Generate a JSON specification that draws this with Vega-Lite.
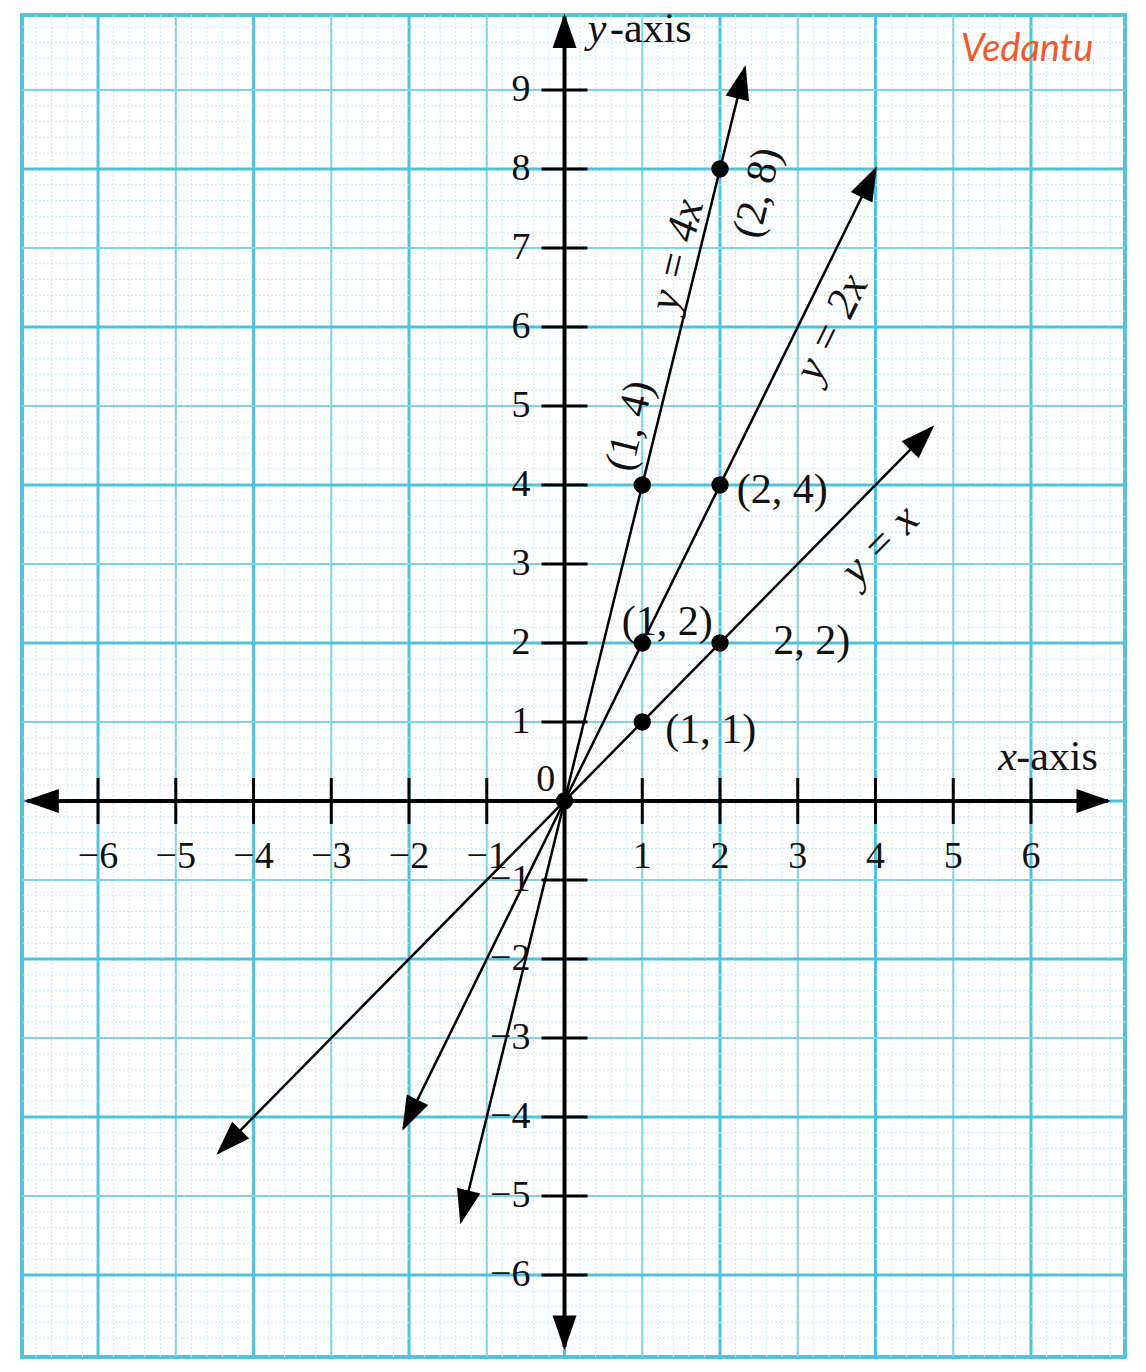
{
  "$schema": "https://vega.github.io/schema/vega-lite/v6.json",
  "width": 1103,
  "height": 1342,
  "autosize": {"type": "none"},
  "padding": {"left": 22, "top": 15, "right": 21, "bottom": 15},
  "background": "#ffffff",
  "config": {
    "view": {"stroke": "#52c4df", "strokeWidth": 4},
    "point": {"shape": "M0,-0.1L0.4,1.05L-0.4,1.05Z", "size": 3600, "filled": true, "opacity": 1, "color": "#000000", "strokeWidth": 0},
    "text": {"font": "Liberation Serif", "color": "#111111", "fontSize": 38, "baseline": "middle", "align": "center"}
  },
  "datasets": {
    "segs": [
      {"seg": "x-axis", "x": -6.91, "y": 0},
      {"seg": "x-axis", "x": 6.99, "y": 0},
      {"seg": "y-axis", "x": 0, "y": -6.91},
      {"seg": "y-axis", "x": 0, "y": 9.93},
      {"seg": "y = x", "x": -4.45, "y": -4.45},
      {"seg": "y = x", "x": 4.73, "y": 4.73},
      {"seg": "y = 2x", "x": -2.07, "y": -4.14},
      {"seg": "y = 2x", "x": 4.0, "y": 8.0},
      {"seg": "y = 4x", "x": -1.33, "y": -5.32},
      {"seg": "y = 4x", "x": 2.32, "y": 9.28}
    ],
    "pts": [
      {"x": 0, "y": 0}, {"x": 1, "y": 1}, {"x": 2, "y": 2}, {"x": 1, "y": 2},
      {"x": 2, "y": 4}, {"x": 1, "y": 4}, {"x": 2, "y": 8}
    ],
    "xt": [
      {"x": -6, "y": 0}, {"x": -5, "y": 0}, {"x": -4, "y": 0}, {"x": -3, "y": 0}, {"x": -2, "y": 0}, {"x": -1, "y": 0},
      {"x": 1, "y": 0}, {"x": 2, "y": 0}, {"x": 3, "y": 0}, {"x": 4, "y": 0}, {"x": 5, "y": 0}, {"x": 6, "y": 0}
    ],
    "yt": [
      {"x": 0, "y": -6}, {"x": 0, "y": -5}, {"x": 0, "y": -4}, {"x": 0, "y": -3}, {"x": 0, "y": -2}, {"x": 0, "y": -1},
      {"x": 0, "y": 1}, {"x": 0, "y": 2}, {"x": 0, "y": 3}, {"x": 0, "y": 4}, {"x": 0, "y": 5}, {"x": 0, "y": 6},
      {"x": 0, "y": 7}, {"x": 0, "y": 8}, {"x": 0, "y": 9}
    ],
    "gx": [
      {"x": -6.8}, {"x": -6.6}, {"x": -6.4}, {"x": -6.2}, {"x": -6}, {"x": -5.8}, {"x": -5.6}, {"x": -5.4}, {"x": -5.2}, {"x": -5},
      {"x": -4.8}, {"x": -4.6}, {"x": -4.4}, {"x": -4.2}, {"x": -4}, {"x": -3.8}, {"x": -3.6}, {"x": -3.4}, {"x": -3.2}, {"x": -3},
      {"x": -2.8}, {"x": -2.6}, {"x": -2.4}, {"x": -2.2}, {"x": -2}, {"x": -1.8}, {"x": -1.6}, {"x": -1.4}, {"x": -1.2}, {"x": -1},
      {"x": -0.8}, {"x": -0.6}, {"x": -0.4}, {"x": -0.2}, {"x": 0}, {"x": 0.2}, {"x": 0.4}, {"x": 0.6}, {"x": 0.8}, {"x": 1},
      {"x": 1.2}, {"x": 1.4}, {"x": 1.6}, {"x": 1.8}, {"x": 2}, {"x": 2.2}, {"x": 2.4}, {"x": 2.6}, {"x": 2.8}, {"x": 3},
      {"x": 3.2}, {"x": 3.4}, {"x": 3.6}, {"x": 3.8}, {"x": 4}, {"x": 4.2}, {"x": 4.4}, {"x": 4.6}, {"x": 4.8}, {"x": 5},
      {"x": 5.2}, {"x": 5.4}, {"x": 5.6}, {"x": 5.8}, {"x": 6}, {"x": 6.2}, {"x": 6.4}, {"x": 6.6}, {"x": 6.8}, {"x": 7.02}
    ],
    "gy": [
      {"y": -6.8}, {"y": -6.6}, {"y": -6.4}, {"y": -6.2}, {"y": -6}, {"y": -5.8}, {"y": -5.6}, {"y": -5.4}, {"y": -5.2}, {"y": -5},
      {"y": -4.8}, {"y": -4.6}, {"y": -4.4}, {"y": -4.2}, {"y": -4}, {"y": -3.8}, {"y": -3.6}, {"y": -3.4}, {"y": -3.2}, {"y": -3},
      {"y": -2.8}, {"y": -2.6}, {"y": -2.4}, {"y": -2.2}, {"y": -2}, {"y": -1.8}, {"y": -1.6}, {"y": -1.4}, {"y": -1.2}, {"y": -1},
      {"y": -0.8}, {"y": -0.6}, {"y": -0.4}, {"y": -0.2}, {"y": 0}, {"y": 0.2}, {"y": 0.4}, {"y": 0.6}, {"y": 0.8}, {"y": 1},
      {"y": 1.2}, {"y": 1.4}, {"y": 1.6}, {"y": 1.8}, {"y": 2}, {"y": 2.2}, {"y": 2.4}, {"y": 2.6}, {"y": 2.8}, {"y": 3},
      {"y": 3.2}, {"y": 3.4}, {"y": 3.6}, {"y": 3.8}, {"y": 4}, {"y": 4.2}, {"y": 4.4}, {"y": 4.6}, {"y": 4.8}, {"y": 5},
      {"y": 5.2}, {"y": 5.4}, {"y": 5.6}, {"y": 5.8}, {"y": 6}, {"y": 6.2}, {"y": 6.4}, {"y": 6.6}, {"y": 6.8}, {"y": 7},
      {"y": 7.2}, {"y": 7.4}, {"y": 7.6}, {"y": 7.8}, {"y": 8}, {"y": 8.2}, {"y": 8.4}, {"y": 8.6}, {"y": 8.8}, {"y": 9},
      {"y": 9.2}, {"y": 9.4}, {"y": 9.6}, {"y": 9.8}
    ]
  },
  "layer": [
    {
      "data": {"name": "gx"},
      "mark": {"type": "rule", "strokeCap": "butt"},
      "encoding": {
        "x": {"field": "x", "type": "quantitative", "scale": {"domain": [-6.978, 7.209], "nice": false, "zero": false}, "axis": null},
        "color": {"condition": [
          {"test": "abs(datum.x/2 - round(datum.x/2)) < 0.01 && abs(datum.x) < 6.9", "value": "#4ec3df"},
          {"test": "abs(datum.x - round(datum.x)) < 0.01 && abs(datum.x) < 6.9", "value": "#7fd3e8"}
        ], "value": "#c3e9f4"},
        "strokeWidth": {"condition": [
          {"test": "abs(datum.x/2 - round(datum.x/2)) < 0.01 && abs(datum.x) < 6.9", "value": 3},
          {"test": "abs(datum.x - round(datum.x)) < 0.01 && abs(datum.x) < 6.9", "value": 2}
        ], "value": 1},
        "strokeDash": {"condition": {"test": "abs(datum.x - round(datum.x)) < 0.01 && abs(datum.x) < 6.9", "value": [1, 0]}, "value": [2, 2]}
      }
    },
    {
      "data": {"name": "gy"},
      "mark": {"type": "rule", "strokeCap": "butt"},
      "encoding": {
        "y": {"field": "y", "type": "quantitative", "scale": {"domain": [-7.038, 9.949], "nice": false, "zero": false}, "axis": null},
        "color": {"condition": [
          {"test": "abs(datum.y/2 - round(datum.y/2)) < 0.01", "value": "#4ec3df"},
          {"test": "abs(datum.y - round(datum.y)) < 0.01", "value": "#7fd3e8"}
        ], "value": "#c3e9f4"},
        "strokeWidth": {"condition": [
          {"test": "abs(datum.y/2 - round(datum.y/2)) < 0.01", "value": 3},
          {"test": "abs(datum.y - round(datum.y)) < 0.01", "value": 2}
        ], "value": 1},
        "strokeDash": {"condition": {"test": "abs(datum.y - round(datum.y)) < 0.01", "value": [1, 0]}, "value": [2, 2]}
      }
    },
    {
      "encoding": {
        "x": {"field": "x", "type": "quantitative", "axis": null},
        "y": {"field": "y", "type": "quantitative", "axis": null}
      },
      "layer": [
        {
          "data": {"name": "segs"},
          "transform": [{"filter": "datum.seg == 'x-axis' || datum.seg == 'y-axis'"}],
          "mark": {"type": "line", "color": "#000000", "strokeWidth": 4, "strokeCap": "butt"},
          "encoding": {"detail": {"field": "seg"}}
        },
        {
          "data": {"name": "segs"},
          "transform": [{"filter": "datum.seg != 'x-axis' && datum.seg != 'y-axis'"}],
          "mark": {"type": "line", "color": "#000000", "strokeWidth": 2.5, "strokeCap": "butt"},
          "encoding": {"detail": {"field": "seg"}}
        },
        {"data": {"name": "segs"}, "transform": [{"filter": "datum.seg == 'x-axis' && datum.x > 0"}], "mark": {"type": "point", "angle": 90}},
        {"data": {"name": "segs"}, "transform": [{"filter": "datum.seg == 'x-axis' && datum.x < 0"}], "mark": {"type": "point", "angle": 270}},
        {"data": {"name": "segs"}, "transform": [{"filter": "datum.seg == 'y-axis' && datum.y > 0"}], "mark": {"type": "point", "angle": 0}},
        {"data": {"name": "segs"}, "transform": [{"filter": "datum.seg == 'y-axis' && datum.y < 0"}], "mark": {"type": "point", "angle": 180}},
        {"data": {"name": "segs"}, "transform": [{"filter": "datum.seg == 'y = x' && datum.y > 0"}], "mark": {"type": "point", "angle": 44.55}},
        {"data": {"name": "segs"}, "transform": [{"filter": "datum.seg == 'y = x' && datum.y < 0"}], "mark": {"type": "point", "angle": 224.55}},
        {"data": {"name": "segs"}, "transform": [{"filter": "datum.seg == 'y = 2x' && datum.y > 0"}], "mark": {"type": "point", "angle": 26.2}},
        {"data": {"name": "segs"}, "transform": [{"filter": "datum.seg == 'y = 2x' && datum.y < 0"}], "mark": {"type": "point", "angle": 206.2}},
        {"data": {"name": "segs"}, "transform": [{"filter": "datum.seg == 'y = 4x' && datum.y > 0"}], "mark": {"type": "point", "angle": 13.82}},
        {"data": {"name": "segs"}, "transform": [{"filter": "datum.seg == 'y = 4x' && datum.y < 0"}], "mark": {"type": "point", "angle": 193.82}},
        {
          "data": {"name": "pts"},
          "mark": {"type": "circle", "size": 300, "opacity": 1, "color": "#000000"}
        },
        {
          "data": {"name": "xt"},
          "mark": {"type": "tick", "orient": "vertical", "size": 46, "thickness": 3, "color": "#000000", "opacity": 1}
        },
        {
          "data": {"name": "yt"},
          "mark": {"type": "tick", "orient": "horizontal", "size": 46, "thickness": 3, "color": "#000000", "opacity": 1}
        },
        {
          "data": {"name": "xt"},
          "mark": {"type": "text", "fontSize": 38, "dy": 56},
          "encoding": {"text": {"field": "x", "type": "quantitative", "format": "d"}}
        },
        {
          "data": {"name": "yt"},
          "mark": {"type": "text", "fontSize": 38, "align": "right", "dx": -34},
          "encoding": {"text": {"field": "y", "type": "quantitative", "format": "d"}}
        },
        {
          "data": {"values": [{"x": -0.24, "y": 0.27, "t": "0"}]},
          "mark": {"type": "text", "fontSize": 38},
          "encoding": {"text": {"field": "t"}}
        },
        {
          "data": {"values": [
            {"x": 1.88, "y": 0.9, "t": "(1, 1)"},
            {"x": 3.18, "y": 2.03, "t": "2, 2)"},
            {"x": 2.8, "y": 3.94, "t": "(2, 4)"},
            {"x": 1.32, "y": 2.27, "t": "(1, 2)"}
          ]},
          "mark": {"type": "text", "fontSize": 42},
          "encoding": {"text": {"field": "t"}}
        },
        {
          "data": {"values": [
            {"x": 0.84, "y": 4.75, "t": "(1, 4)"},
            {"x": 2.48, "y": 7.7, "t": "(2, 8)"}
          ]},
          "mark": {"type": "text", "fontSize": 42, "angle": 283.8},
          "encoding": {"text": {"field": "t"}}
        },
        {
          "data": {"values": [{"x": 1.45, "y": 6.91, "t": "y = 4x"}]},
          "mark": {"type": "text", "fontSize": 44, "fontStyle": "italic", "angle": 283.8},
          "encoding": {"text": {"field": "t"}}
        },
        {
          "data": {"values": [{"x": 3.44, "y": 5.99, "t": "y = 2x"}]},
          "mark": {"type": "text", "fontSize": 44, "fontStyle": "italic", "angle": 296.2},
          "encoding": {"text": {"field": "t"}}
        },
        {
          "data": {"values": [{"x": 4.06, "y": 3.24, "t": "y = x"}]},
          "mark": {"type": "text", "fontSize": 44, "fontStyle": "italic", "angle": 314.5},
          "encoding": {"text": {"field": "t"}}
        },
        {
          "data": {"values": [
            {"x": 5.58, "y": 0.39, "t": "x"},
            {"x": 0.3, "y": 9.61, "t": "y"}
          ]},
          "mark": {"type": "text", "fontSize": 42, "fontStyle": "italic", "align": "left", "baseline": "alphabetic"},
          "encoding": {"text": {"field": "t"}}
        },
        {
          "data": {"values": [
            {"x": 5.81, "y": 0.39, "t": "-axis"},
            {"x": 0.585, "y": 9.61, "t": "-axis"}
          ]},
          "mark": {"type": "text", "fontSize": 42, "align": "left", "baseline": "alphabetic"},
          "encoding": {"text": {"field": "t"}}
        },
        {
          "data": {"values": [{"x": 5.95, "y": 9.5, "t": "Vedantu"}]},
          "mark": {"type": "text", "font": "Lato", "fontSize": 38, "fontStyle": "italic", "color": "#f1592a"},
          "encoding": {"text": {"field": "t"}}
        }
      ]
    }
  ]
}
